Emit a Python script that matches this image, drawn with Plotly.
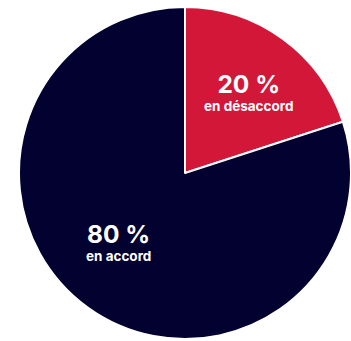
import plotly.graph_objects as go

labels = ["en désaccord", "en accord"]
values = [20, 80]
colors = ["#D31739", "#02012F"]

W, H = 351, 341

fig = go.Figure(go.Pie(
    labels=labels,
    values=values,
    sort=False,
    direction="clockwise",
    rotation=0,
    marker=dict(colors=colors, line=dict(color="white", width=2)),
    textinfo="none",
    hoverinfo="label+percent",
    domain=dict(x=[19 / W, 1.0], y=[2 / H, 1 - 7 / H]),
    showlegend=False,
))

# label anchor (pixel centre of the two-line block) for each slice
label_pos = [(248, 91), (118, 241)]
total = sum(values)
for lab, val, (px, py) in zip(labels, values, label_pos):
    pct = round(100 * val / total)
    fig.add_annotation(
        x=px / W, y=1 - py / H, xref="paper", yref="paper",
        text=(f"<span style='font-size:24.5px'><b>{pct} %</b></span><br>"
              f"<b>{lab}</b>"),
        showarrow=False,
        font=dict(family="Inter", size=13.5, color="white"),
        xanchor="center", yanchor="middle", align="center",
    )

fig.update_layout(
    width=W, height=H,
    margin=dict(l=0, r=0, t=0, b=0),
    paper_bgcolor="white",
    plot_bgcolor="white",
)

fig.write_html("out.html")
